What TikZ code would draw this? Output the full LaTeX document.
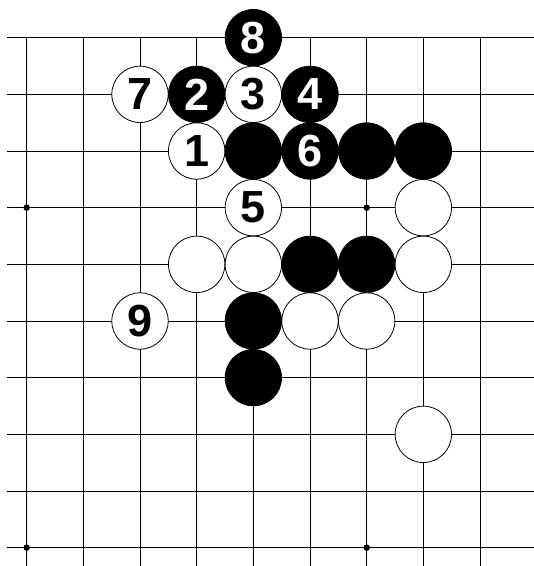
\documentclass[tikz,border=0pt]{standalone}
\usepackage{fontspec}
\setmainfont{Liberation Sans}
\begin{document}
\begin{tikzpicture}[x=1pt,y=1pt,
  gridline/.style={black,line width=0.9pt},
  stone/.style={circle,draw=black,line width=0.8pt,minimum size=56.4pt,inner sep=0pt,
    font=\fontsize{45}{45}\selectfont\bfseries},
  bstone/.style={stone,fill=black,text=white},
  wstone/.style={stone,fill=white,text=black},
  hoshi/.style={circle,fill=black,inner sep=0pt,minimum size=6.5pt}]
\useasboundingbox (0,0) rectangle (534,566);
\fill[white] (0,0) rectangle (534,566);
\begin{scope}[shift={(26.667,528.333)},x=56.667pt,y=-56.667pt]
  \foreach \r in {0,...,9} \draw[gridline] (-0.342,\r) -- (8.95,\r);
  \foreach \c in {0,...,8} \draw[gridline] (\c,0) -- (\c,9.4);
  \node[hoshi] (h1) at (0,3) {};
  \node[hoshi] (h2) at (6,3) {};
  \node[hoshi] (h3) at (0,9) {};
  \node[hoshi] (h4) at (6,9) {};
  % numbered moves
  \node[wstone] (m1) at (3,2) {1};
  \node[bstone] (m2) at (3,1) {2};
  \node[wstone] (m3) at (4,1) {3};
  \node[bstone] (m4) at (5,1) {4};
  \node[wstone] (m5) at (4,3) {5};
  \node[bstone] (m6) at (5,2) {6};
  \node[wstone] (m7) at (2,1) {7};
  \node[bstone] (m8) at (4,0) {8};
  \node[wstone] (m9) at (2,5) {9};
  % black stones
  \node[bstone] (b1) at (4,2) {};
  \node[bstone] (b2) at (6,2) {};
  \node[bstone] (b3) at (7,2) {};
  \node[bstone] (b4) at (5,4) {};
  \node[bstone] (b5) at (6,4) {};
  \node[bstone] (b6) at (4,5) {};
  \node[bstone] (b7) at (4,6) {};
  % white stones
  \node[wstone] (w1) at (7,3) {};
  \node[wstone] (w2) at (3,4) {};
  \node[wstone] (w3) at (4,4) {};
  \node[wstone] (w4) at (7,4) {};
  \node[wstone] (w5) at (5,5) {};
  \node[wstone] (w6) at (6,5) {};
  \node[wstone] (w7) at (7,7) {};
\end{scope}
\end{tikzpicture}
\end{document}
